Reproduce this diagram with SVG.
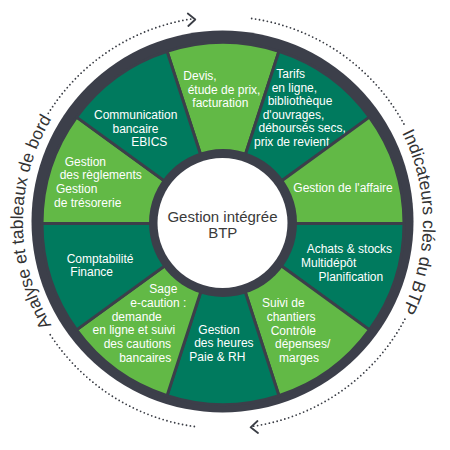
<svg xmlns="http://www.w3.org/2000/svg" width="450" height="450" viewBox="0 0 450 450">
<style>
.lt{fill:#62b946;stroke:#3c3f4a;stroke-width:3;stroke-linejoin:round}
.dk{fill:#007a5e;stroke:#3c3f4a;stroke-width:3;stroke-linejoin:round}
.t{font-family:"Liberation Sans",Arial,sans-serif;font-size:12px;fill:#ffffff}
.c{font-family:"Liberation Sans",Arial,sans-serif;font-size:15px;fill:#3a3a3a;text-anchor:middle}
.arc{font-family:"Liberation Sans",Arial,sans-serif;font-size:17.5px;fill:#333333}
.dot{fill:none;stroke:#3a3d45;stroke-width:1.8;stroke-linecap:round;stroke-dasharray:0 4}
.chev{fill:none;stroke:#3a3d45;stroke-width:1.8;stroke-linecap:round;stroke-linejoin:round}
</style>
<defs>
<path id="circ" d="M223,422 A200,200 0 1 1 223,22 A200,200 0 1 1 223,422"/>
</defs>
<rect width="450" height="450" fill="#ffffff"/>
<circle cx="222.5" cy="221.5" r="191" fill="#3c3f4a"/>

<g id="devis">
<path class="lt" d="M223,223.5 L167.07,51.36 A181,181 0 0 1 278.93,51.36 Z"/>
<text class="t"><tspan x="183.3" y="80">Devis,</tspan><tspan x="187.7" y="93.5">étude de prix,</tspan><tspan x="192.3" y="107">facturation</tspan></text>
</g>
<g id="tarifs">
<path class="dk" d="M223,223.5 L278.93,51.36 A181,181 0 0 1 369.43,117.11 Z"/>
<text class="t"><tspan x="276.3" y="77.5">Tarifs</tspan><tspan x="271.7" y="91.5">en ligne,</tspan><tspan x="267.7" y="105.2">bibliothèque</tspan><tspan x="262.7" y="118.8">d'ouvrages,</tspan><tspan x="258.5" y="132.3">déboursés secs,</tspan><tspan x="254" y="145.8">prix de revient</tspan></text>
</g>
<g id="affaire">
<path class="lt" d="M223,223.5 L369.43,117.11 A181,181 0 0 1 404,223.5 Z"/>
<text class="t"><tspan x="293.3" y="192.3">Gestion de l'affaire</tspan></text>
</g>
<g id="achats">
<path class="dk" d="M223,223.5 L404,223.5 A181,181 0 0 1 369.43,329.89 Z"/>
<text class="t"><tspan x="306.7" y="253.3">Achats &amp; stocks</tspan><tspan x="301" y="267.3">Multidépôt</tspan><tspan x="318.5" y="281">Planification</tspan></text>
</g>
<g id="suivi">
<path class="lt" d="M223,223.5 L369.43,329.89 A181,181 0 0 1 278.93,395.64 Z"/>
<text class="t"><tspan x="262" y="307">Suivi de</tspan><tspan x="266.7" y="320.7">chantiers</tspan><tspan x="270.7" y="334.7">Contrôle</tspan><tspan x="275" y="348.3">dépenses/</tspan><tspan x="279" y="361.7">marges</tspan></text>
</g>
<g id="heures">
<path class="dk" d="M223,223.5 L278.93,395.64 A181,181 0 0 1 167.07,395.64 Z"/>
<text class="t"><tspan x="198.3" y="333.7">Gestion</tspan><tspan x="194.2" y="347">des heures</tspan><tspan x="189.3" y="360.8">Paie &amp; RH</tspan></text>
</g>
<g id="sage">
<path class="lt" d="M223,223.5 L167.07,395.64 A181,181 0 0 1 76.57,329.89 Z"/>
<text class="t"><tspan x="149.3" y="293.3">Sage</tspan><tspan x="130.3" y="307">e-caution :</tspan><tspan x="111.7" y="320.8">demande</tspan><tspan x="92.5" y="334.3">en ligne et suivi</tspan><tspan x="103.7" y="348.3">des cautions</tspan><tspan x="119.2" y="361.7">bancaires</tspan></text>
</g>
<g id="compta">
<path class="dk" d="M223,223.5 L76.57,329.89 A181,181 0 0 1 42,223.5 Z"/>
<text class="t"><tspan x="66.7" y="262.8">Comptabilité</tspan><tspan x="70.3" y="276.3">Finance</tspan></text>
</g>
<g id="reglements">
<path class="lt" d="M223,223.5 L42,223.5 A181,181 0 0 1 76.57,117.11 Z"/>
<text class="t"><tspan x="64.7" y="166">Gestion</tspan><tspan x="59.7" y="179.3">des règlements</tspan><tspan x="56" y="193.3">Gestion</tspan><tspan x="54" y="206.7">de trésorerie</tspan></text>
</g>
<g id="communication">
<path class="dk" d="M223,223.5 L76.57,117.11 A181,181 0 0 1 167.07,51.36 Z"/>
<text class="t"><tspan x="94" y="119.3">Communication</tspan><tspan x="112.5" y="132.7">bancaire</tspan><tspan x="131.3" y="146.3">EBICS</tspan></text>
</g>

<g id="centre">
<circle cx="223" cy="223" r="74" fill="#3c3f4a"/>
<circle cx="222.5" cy="223" r="65" fill="#ffffff"/>
<text class="c"><tspan x="222.5" y="222">Gestion intégrée</tspan><tspan x="222.8" y="238">BTP</tspan></text>
</g>

<g id="outer-labels">
<text class="arc"><textPath href="#circ" startOffset="25%" text-anchor="middle">Analyse et tableaux de bord</textPath></text>
<text class="arc"><textPath href="#circ" startOffset="75%" text-anchor="middle">Indicateurs clés du BTP</textPath></text>
</g>

<g id="connectors">
<path class="dot" d="M48.3,113.34 A206,206 0 0 1 194.33,18.5"/>
<path class="dot" d="M251.67,18.5 A206,206 0 0 1 404.89,125.79"/>
<path class="dot" d="M404.89,319.21 A206,206 0 0 1 251.67,426.5"/>
<path class="dot" d="M194.33,426.5 A206,206 0 0 1 48.3,331.66"/>
<path class="chev" d="M187.8,13.5 L195.3,19.5 L188.3,26"/>
<path class="chev" d="M257.5,421 L250.6,427.3 L258,433"/>
</g>
</svg>
